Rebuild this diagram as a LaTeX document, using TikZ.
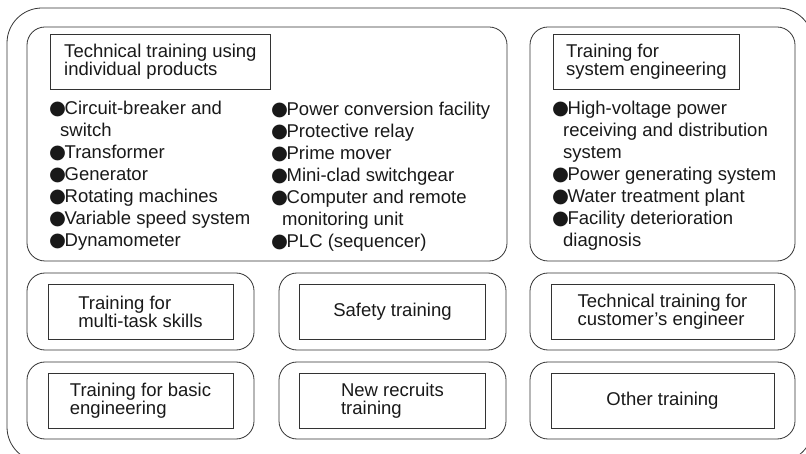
\documentclass[tikz,border=0pt]{standalone}
\usepackage{fontspec}
\setmainfont{Liberation Sans}
\newfontfamily\bulletfont[Scale=1.05]{DejaVu Sans}
\newcommand{\bul}{{\bulletfont ●}\kern-1.5pt}
\newcommand{\cont}{\hspace*{11pt}}
\tikzstyle{frame} = [rectangle, rounded corners=35pt, draw=black!80, line width=0.8pt, inner sep=0pt]
\tikzstyle{group} = [rectangle, rounded corners=18pt, draw=black!80, line width=0.8pt, inner sep=0pt]
\tikzstyle{course} = [rectangle, draw=black!80, line width=0.8pt, align=left, text=black!90, font=\fontsize{18.5}{18}\selectfont]
\tikzstyle{items} = [align=left, anchor=north west, inner sep=0pt, text=black!90, font=\fontsize{18.5}{22}\selectfont]

\begin{document}
\begin{tikzpicture}[x=1pt,y=-1pt]
    \useasboundingbox (0,0) rectangle (806,454);
    \clip (0,0) rectangle (806,454);
    \node (all) [frame, minimum width=806pt, minimum height=454pt] at (410,235) {};

    % upper panels with lists
    \node (products) [group, minimum width=480pt, minimum height=234pt] at (267,144) {};
    \node (system) [group, minimum width=265pt, minimum height=234pt] at (662.5,144) {};
    \node (productsTitle) [course, minimum width=220pt, minimum height=55pt, anchor=north west] at (50,34) {Technical training using\\individual products};
    \node (systemTitle) [course, minimum width=186pt, minimum height=55pt, anchor=north west] at (553,34) {Training for\\system engineering};

    \node (productsLeft) [items] at (49,101) {\bul Circuit-breaker and\\\cont switch\\\bul Transformer\\\bul Generator\\\bul Rotating machines\\\bul Variable speed system\\\bul Dynamometer};
    \node (productsRight) [items] at (271,102) {\bul Power conversion facility\\\bul Protective relay\\\bul Prime mover\\\bul Mini-clad switchgear\\\bul Computer and remote\\\cont monitoring unit\\\bul PLC (sequencer)};
    \node (systemList) [items] at (552,101) {\bul High-voltage power\\\cont receiving and distribution\\\cont system\\\bul Power generating system\\\bul Water treatment plant\\\bul Facility deterioration\\\cont diagnosis};

    % lower rows
    \node (multitask) [group, minimum width=227pt, minimum height=77pt] at (140.5,311.5) {};
    \node (safety) [group, minimum width=227pt, minimum height=77pt] at (392.5,311.5) {};
    \node (customer) [group, minimum width=265pt, minimum height=77pt] at (662.5,311.5) {};
    \node (basic) [group, minimum width=227pt, minimum height=77pt] at (140.5,400.5) {};
    \node (recruits) [group, minimum width=227pt, minimum height=77pt] at (392.5,400.5) {};
    \node (other) [group, minimum width=265pt, minimum height=77pt] at (662.5,400.5) {};

    \node (multitaskText) [course, minimum width=185pt, minimum height=55pt] at (multitask) {Training for\\multi-task skills};
    \node (safetyText) [course, minimum width=186pt, minimum height=55pt] at (safety) {Safety training};
    \node (customerText) [course, minimum width=223pt, minimum height=55pt] at (customer) {Technical training for\\customer’s engineer};
    \node (basicText) [course, minimum width=185pt, minimum height=55pt] at (basic) {Training for basic\\engineering};
    \node (recruitsText) [course, minimum width=186pt, minimum height=55pt] at (recruits) {New recruits\\training};
    \node (otherText) [course, minimum width=223pt, minimum height=55pt] at (other) {Other training};
\end{tikzpicture}
\end{document}
